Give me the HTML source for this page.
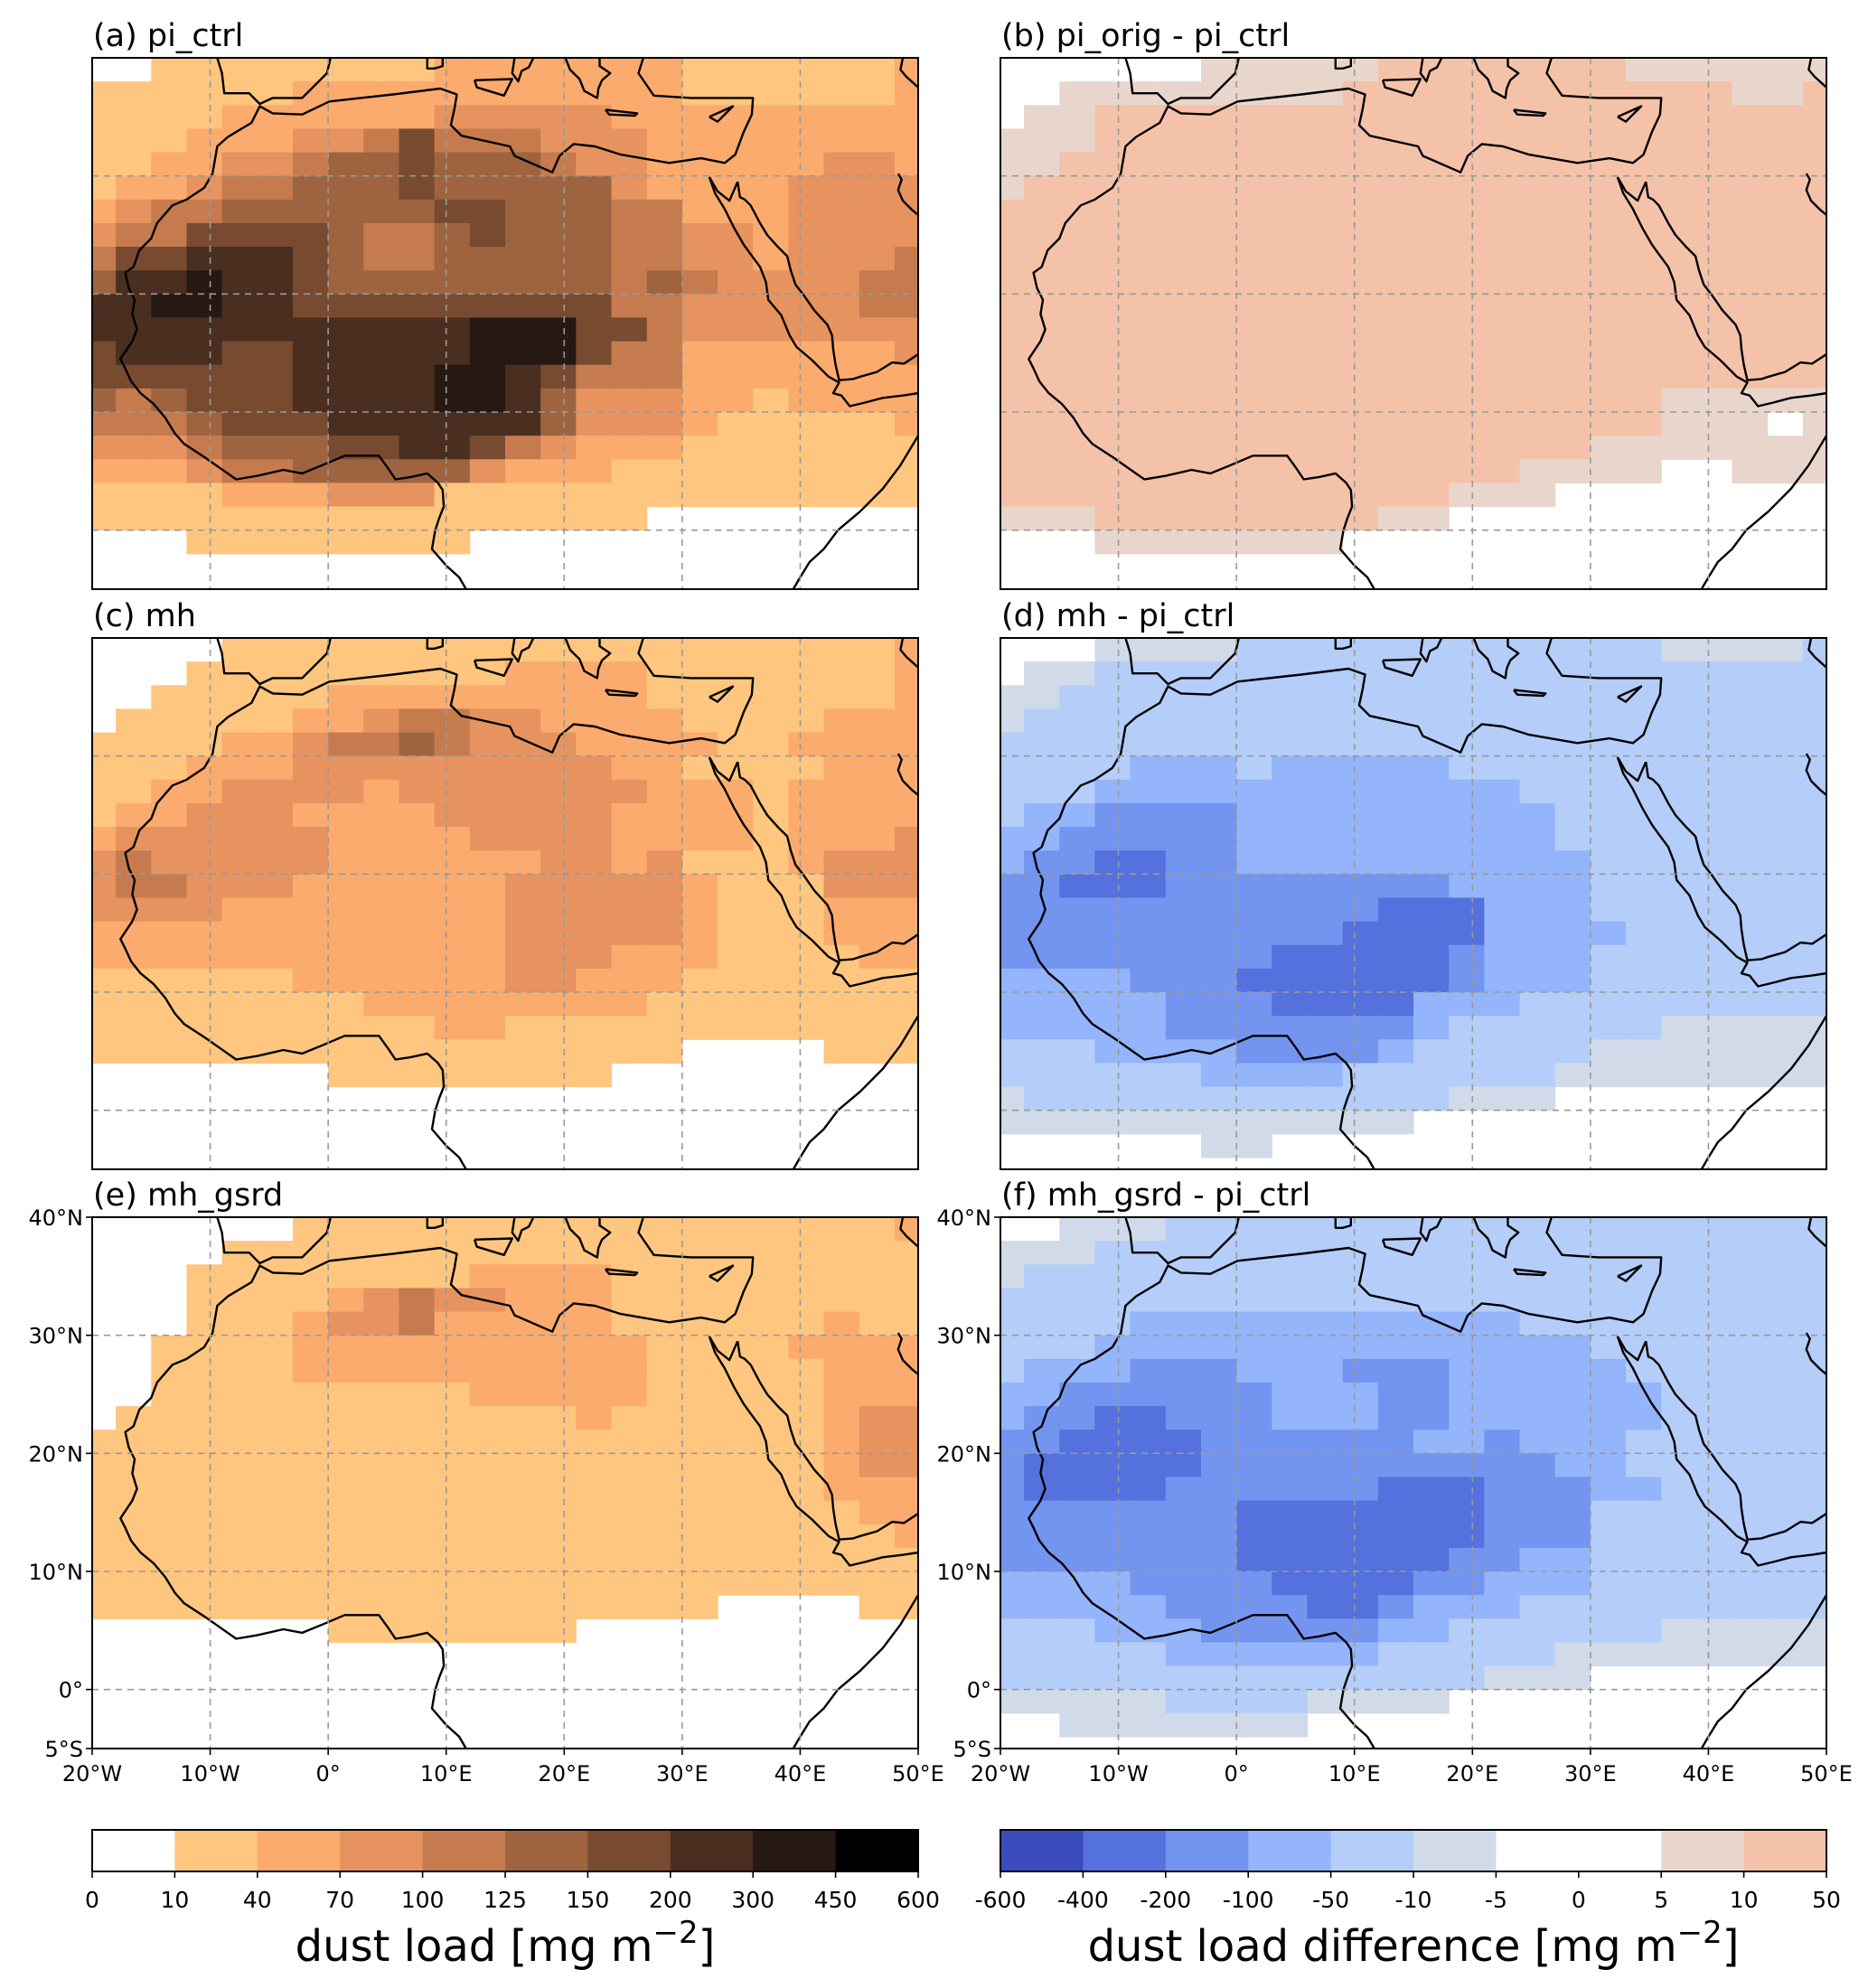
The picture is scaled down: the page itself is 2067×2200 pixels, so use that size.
<!DOCTYPE html>
<html><head><meta charset="utf-8"><style>
html,body{margin:0;padding:0;background:#fff}
svg{display:block}
text{font-family:"DejaVu Sans","Liberation Sans",sans-serif;fill:#000}
</style></head><body>
<svg id="fig" xmlns="http://www.w3.org/2000/svg" width="2067" height="2200" viewBox="0 0 2067 2200"></svg>
<script>
// ---- data: grid levels, rows from 40N southward (2° lat), cols from 21W eastward (3° lon) ----
const panelA = ["001111111122222221111112","111111222222222221111112","111122222233333222222222","111222334644433322222222","112233455655543322222332","122344555655555322223333","234455555566555442223333","344666654456555443323333","466777654455555443323334","577877655555555454333344","778877666666666443333344","777777777778886643333333","677766777778886442222223","666666777788764442222222","545666777788753332212222","444566677777753332111112","333455566776432221111111","222344555553222111111111","111122233311111111111111","111111111111111100000000","000111111110000000000000","000000000000000000000000","000000000000000000000000"];
const panelB = ["000000pppppqqqqqqqpppppp","00ppppppppqqqqqqqqqqqppq","0ppqqqqqqqqqqqqqqqqqqqqq","pppqqqqqqqqqqqqqqqqqqqqq","ppqqqqqqqqqqqqqqqqqqqqqq","pqqqqqqqqqqqqqqqqqqqqqqq","qqqqqqqqqqqqqqqqqqqqqqqq","qqqqqqqqqqqqqqqqqqqqqqqq","qqqqqqqqqqqqqqqqqqqqqqqq","qqqqqqqqqqqqqqqqqqqqqqqq","qqqqqqqqqqqqqqqqqqqqqqqq","qqqqqqqqqqqqqqqqqqqqqqqq","qqqqqqqqqqqqqqqqqqqqqqqq","qqqqqqqqqqqqqqqqqqqqqqqq","qqqqqqqqqqqqqqqqqqqppppp","qqqqqqqqqqqqqqqqqqqppp0p","qqqqqqqqqqqqqqqqqppppppp","qqqqqqqqqqqqqqqpppp00ppp","qqqqqqqqqqqqqppp00000000","pppqqqqqqqqpp00000000000","000ppppppp00000000000000","000000000000000000000000","000000000000000000000000"];
const panelC = ["000011111111111111111112","000111111111222211111112","001111122222222211111112","011111223443322221111222","111122344543332222112222","111222333333333221111222","112233332333333322212222","122333222233333222212222","233333322223333222212223","343333322222233231112333","344333222222333332111333","333322222222333332111222","222222222222333332111222","222222222222333222111122","111111222222332221111111","111111112222222211111111","111111111122111111111111","111111111111111110000111","000000011111111000000000","000000000000000000000000","000000000000000000000000","000000000000000000000000","000000000000000000000000"];
const panelD = ["000aaaabbbbbbbbbbbbaaaab","0aabbbbbbbbbbbbbbbbbbbbb","aabbbbbbbbbbbbbbbbbbbbbb","abbbbbbbbbbbbbbbbbbbbbbb","bbbbbbbbbbbbbbbbbbbbbbbb","bbbbcccbcccccbbbbbbbbbbb","bbbccccccccccccbbbbbbbbb","bccddddcccccccccbbbbbbbb","ccdddddcccccccccbbbbbbbb","cddeeddccccccccccbbbbbbb","ddeeeddddddddccccbbbbbbb","dddddddddddeeecccbbbbbbb","ddddddddddeeeeccccbbbbbb","ddddddddeeeeedcccbbbbbbb","ccccdddeeeeeedcccbbbbbbb","cccccdddeeeecccbbbbbbbbb","cccccdddddddcbbbbbbaaaaa","bbbccccddddcbbbbbaaaaaaa","bbbbbbccccbbbbbbaaaaaaaa","abbbbbbbbbbbbaaa00000000","aaaaaaaaaaaa000000000000","000000aa0000000000000000","000000000000000000000000"];
const panelE = ["000000111111111111111112","000011111111111111111111","000111111112222111111111","000111123433222111111111","000111233422222111111211","001111222222222211112222","001111222222222211111222","001111111112222211111222","011111111111112111111233","111111111111111111111233","111111111111111111111233","111111111111111111111222","111111111111111111111122","111111111111111111111112","111111111111111111111111","111111111111111111111111","111111111111111111000011","000000011111110000000000","000000000000000000000000","000000000000000000000000","000000000000000000000000","000000000000000000000000","000000000000000000000000"];
const panelF = ["00aaabbbbbbbbbbbbbbbbbbb","aaabbbbbbbbbbbbbbbbbbbbb","abbbbbbbbbbbbbbbbbbbbbbb","bbbbbbbbbbbbbbbbbbbbbbbb","bbbbcccccccccccbbbbbbbbb","bbbccccccccccccccbbbbbbb","bcccdddcccdddcccccbbbbbb","ccddddddcccddccccccbbbbb","cddeedddcccddccccccbbbbb","ddeeeeddddddccdcccbbbbbb","deeeeeddddddddddccbbbbbb","deeeeddddddeeedddccbbbbb","dddddddeeeeeeedddbbbbbbb","dddddddeeeeeeedddbbbbbbb","dddddddeeeeeeddccbbbbbbb","ccccddddeeeeddcccbbbbbbb","cccccddddeedcccbbbbbbbbb","bbbcccdddddccbbbbbbaaaaa","bbbbbccccccbbbbbaaaaaaaa","bbbbbbbbbbbbbbaaa0000000","aaaaabbbbaaaa00000000000","00aaaaaaa000000000000000","000000000000000000000000"];
const seqTicks = ["0","10","40","70","100","125","150","200","300","450","600"];
const divTicks = ["-600","-400","-200","-100","-50","-10","-5","0","5","10","50"];
const lonTicks = [-20,-10,0,10,20,30,40,50];
const lonLabels = ["20°W","10°W","0°","10°E","20°E","30°E","40°E","50°E"];
const latTicks = [40,30,20,10,0,-5];
const latLabels = ["40°N","30°N","20°N","10°N","0°","5°S"];

const palette = {"0":null,"1":"#FEC67F","2":"#FBAB6E","3":"#E6935F","4":"#C57B4D","5":"#9E6440","6":"#784A30","7":"#4A2F20","8":"#261812","9":"#000000",
 "f":"#3B4CC0","e":"#5571DD","d":"#7394EF","c":"#94B4FB","b":"#B4CDF9","a":"#D0DAE8","p":"#E8D6CD","q":"#F4C2A8"};
const seqBins = ["0","1","2","3","4","5","6","7","8","9"];
const divBins = ["f","e","d","c","b","a","0","0","p","q"];

// coastlines (lon, lat)
const coasts = [
 [[-9.4,40],[-9,38.7],[-8.8,37],[-6.7,37],[-5.8,36.1],[-4.7,36.6],[-2.2,36.6],[-0.1,38.7],[0.2,40]],
 [[26.7,40],[26.3,38.7],[27.6,36.8],[30.7,36.6],[34.5,36.6],[36.0,36.6],[35.9,35.2],[35.2,33.7],[34.5,31.8],[33.6,31.1],[31.6,31.5],[28.9,31.1],[24.8,31.8],[22.6,32.5],[20.8,32.7],[19.6,31.7],[19.0,30.3],[15.8,31.7],[15.4,32.5],[11.3,33.4],[10.4,34.3],[10.7,35.7],[10.9,36.9],[9.5,37.4],[5.5,36.9],[0.1,36.3],[-2.2,35.2],[-4.7,35.3],[-5.8,35.9],[-6.5,34.5],[-8.5,33.3],[-9.4,32.5],[-9.8,30.2],[-10.5,29],[-12,28],[-13.2,27.5],[-14.5,26],[-15,24.7],[-16,23.7],[-16.5,22.3],[-17.2,21.8],[-16.9,20.5],[-16.4,19.5],[-16.6,18.3],[-16.2,17],[-16.6,16],[-17.4,14.8],[-17.6,14.5],[-17.2,13.7],[-16.7,12.6],[-15.9,11.6],[-14.8,10.7],[-13.8,9.5],[-13.0,8.2],[-12.2,7.3],[-10.5,6.2],[-7.8,4.3],[-6,4.6],[-3.8,5.1],[-2.2,4.8],[-0.5,5.5],[1.4,6.3],[4.3,6.3],[5.1,5.2],[5.7,4.3],[7,4.5],[8.4,4.8],[9.3,4.0],[9.7,3.4],[9.8,2],[9.4,1],[9.07,0],[8.8,-1.6],[10,-3],[11.1,-4],[11.8,-5.2]],
 [[32.3,29.9],[32.8,28.5],[33.6,27.2],[34.4,25.6],[35.2,24.2],[35.7,23.5],[36.6,22.3],[37.1,21.0],[37.3,19.5],[38.4,18.2],[39.1,16.5],[39.7,15.5],[41,14.4],[42.4,13.0],[43.3,12.5],[42.8,11.6],[43.5,11.4],[44.2,10.5],[45.5,10.8],[47,11.2],[48.7,11.4],[50,11.6]],
 [[50,8],[48.5,5.5],[47,3.5],[45.1,1.6],[43.2,0],[42,-1.6],[40.8,-2.7],[40,-4],[39.3,-5.2]],
 [[34.7,29.5],[34.9,28.2],[35.3,28.0],[35.8,27.5],[36.6,26],[37.2,25],[38.1,24],[38.9,23.2],[39.2,22],[39.6,20.8],[40.3,19.9],[41.2,18.6],[42.3,17.4],[42.7,16.5],[42.8,15.3],[43.0,14],[43.3,12.7],[44.5,12.8],[45.1,13],[46.5,13.4],[47.8,14.2],[48.8,14.1],[50,14.9]],
 [[32.3,29.9],[33.0,28.7],[34.0,27.9],[34.7,29.5]],
 [[48.3,30.2],[48.6,29.7],[48.3,28.8],[48.7,27.9],[49.5,27.1],[50,26.7]],
 [[48.7,40],[48.5,39],[49,38.4],[50,37.5]],
 [[8.4,40],[8.4,39.1],[9.0,39.1],[9.7,39.3],[9.7,40]],
 [[12.4,38.1],[15.6,38.2],[14.9,36.8],[12.6,37.5],[12.4,38.1]],
 [[15.8,40],[15.6,38.7],[16.1,38],[16.4,38.9],[17,39.2],[17.4,40]],
 [[20.1,40],[20.5,39.0],[21.3,38.2],[21.7,37.2],[22.8,36.6],[22.9,37.4],[23.2,38.1],[23.9,38.7],[23,39.3],[23,40]],
 [[23.5,35.6],[26.2,35.3],[26,35.1],[23.8,35.2],[23.5,35.6]],
 [[32.3,35.0],[34.3,35.9],[33,34.6],[32.3,35.0]]
];

const NS = "http://www.w3.org/2000/svg";
const svg = document.getElementById('fig');
function mk(tag, attrs, parent){ const e=document.createElementNS(NS,tag); for(const k in attrs) e.setAttribute(k,attrs[k]); (parent||svg).appendChild(e); return e; }

const PW=914, PH=588;
const panels = [
 {data:panelA, left:102, top:64, title:"(a) pi_ctrl", name:"panel-a-pi-ctrl", axes:false},
 {data:panelB, left:1107, top:64, title:"(b) pi_orig - pi_ctrl", name:"panel-b-pi-orig-diff", axes:false},
 {data:panelC, left:102, top:706, title:"(c) mh", name:"panel-c-mh", axes:false},
 {data:panelD, left:1107, top:706, title:"(d) mh - pi_ctrl", name:"panel-d-mh-diff", axes:false},
 {data:panelE, left:102, top:1347, title:"(e) mh_gsrd", name:"panel-e-mh-gsrd", axes:true},
 {data:panelF, left:1107, top:1347, title:"(f) mh_gsrd - pi_ctrl", name:"panel-f-mh-gsrd-diff", axes:true}
];

panels.forEach((p,pi)=>{
  const xs = lon => p.left + (lon+20)/70*PW;
  const ys = lat => p.top + (40-lat)/45*PH;
  const g = mk('g',{});
  
  
  const cid='clip'+pi;
  const cp=mk('clipPath',{id:cid},g); mk('rect',{x:p.left,y:p.top,width:PW,height:PH},cp);
  const inner=mk('g',{'clip-path':'url(#'+cid+')'},g);
  p.data.forEach((row,r)=>{
    for(let c=0;c<row.length;c++){
      const col=palette[row[c]]; if(!col) continue;
      const lon0=-21+3*c, lat1=40-2*r;
      const x0=xs(lon0), x1=xs(lon0+3), y0=ys(lat1), y1=ys(lat1-2);
      const cell=mk('rect',{x:x0.toFixed(2),y:y0.toFixed(2),width:(x1-x0+0.6).toFixed(2),height:(y1-y0+0.6).toFixed(2),fill:col},inner);
      
      
    }
  });
  // coastlines
  coasts.forEach(line=>{
    const d=line.map((pt,i)=>(i?'L':'M')+xs(pt[0]).toFixed(1)+' '+ys(pt[1]).toFixed(1)).join(' ');
    const path=mk('path',{d:d,fill:'none',stroke:'#000','stroke-width':2.4,'stroke-linejoin':'round'},inner);
    
    
  });
  // gridlines
  [-10,0,10,20,30,40].forEach(lon=>{
    const l=mk('line',{x1:xs(lon),x2:xs(lon),y1:p.top,y2:p.top+PH,stroke:'#999','stroke-width':1.6,'stroke-dasharray':'7,6'},inner);
    
    
  });
  [0,10,20,30].forEach(lat=>{
    const l=mk('line',{x1:p.left,x2:p.left+PW,y1:ys(lat),y2:ys(lat),stroke:'#999','stroke-width':1.6,'stroke-dasharray':'7,6'},inner);
    
    
  });
  const fr=mk('rect',{x:p.left,y:p.top,width:PW,height:PH,fill:'none',stroke:'#000','stroke-width':2},g);
  
  
  const t=mk('text',{x:p.left+1,y:p.top-13,'font-size':35},g); t.textContent=p.title;
  
  
  if(p.axes){
    lonTicks.forEach((lon,i)=>{
      mk('line',{x1:xs(lon),x2:xs(lon),y1:p.top+PH,y2:p.top+PH+7,stroke:'#000','stroke-width':1.6},g);
      const tx=mk('text',{x:xs(lon),y:p.top+PH+36,'font-size':24,'text-anchor':'middle'},g); tx.textContent=lonLabels[i];
      
      
    });
    latTicks.forEach((lat,i)=>{
      mk('line',{x1:p.left-7,x2:p.left,y1:ys(lat),y2:ys(lat),stroke:'#000','stroke-width':1.6},g);
      const ty=mk('text',{x:p.left-10,y:ys(lat)+9,'font-size':24,'text-anchor':'end'},g); ty.textContent=latLabels[i];
      
      
    });
  }
});

// colorbars
function colorbar(left, bins, ticks, label, name){
  const g=mk('g',{});
  
  
  const top=2025, h=46, n=bins.length, w=PW/n;
  bins.forEach((b,i)=>{
    const r=mk('rect',{x:(left+i*w).toFixed(2),y:top,width:(w+0.5).toFixed(2),height:h,fill:palette[b]||'#fff'},g);
    
    
  });
  mk('rect',{x:left,y:top,width:PW,height:h,fill:'none',stroke:'#000','stroke-width':2},g);
  ticks.forEach((tk,i)=>{
    const x=left+i*w;
    mk('line',{x1:x,x2:x,y1:top+h,y2:top+h+7,stroke:'#000','stroke-width':1.6},g);
    const t=mk('text',{x:x,y:2111,'font-size':25,'text-anchor':'middle'},g); t.textContent=tk;
    
    
  });
  const t=mk('text',{x:left+PW/2,y:2170,'font-size':48,'text-anchor':'middle'},g);
  
  
  t.appendChild(document.createTextNode(label+' [mg m'));
  const s=mk('tspan',{dy:-20,'font-size':34},t); s.textContent='−2';
  const s2=mk('tspan',{dy:20},t); s2.textContent=']';
}
colorbar(102, seqBins, seqTicks, 'dust load', 'dust-load-colorbar');
colorbar(1107, divBins, divTicks, 'dust load difference', 'dust-difference-colorbar');
</script>
</body></html>
